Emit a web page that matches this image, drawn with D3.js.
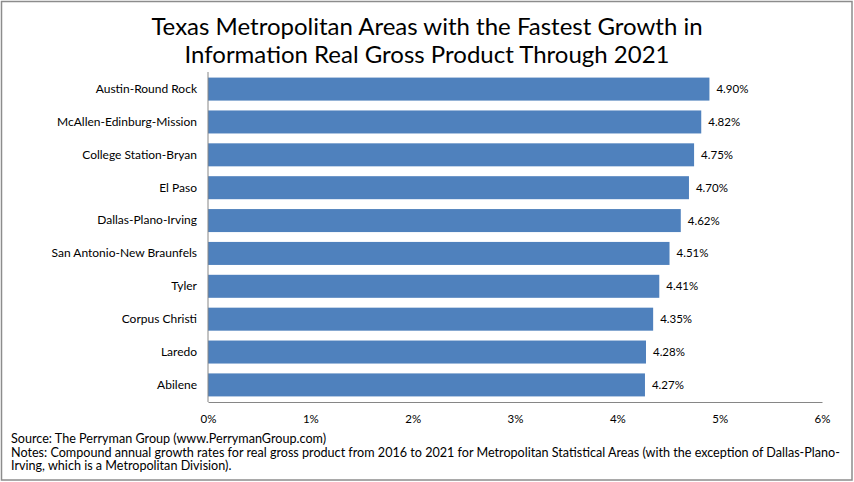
<!DOCTYPE html>
<html>
<head>
<meta charset="utf-8">
<script src="https://cdn.jsdelivr.net/npm/d3@7"></script>
<style>
  body { margin: 0; background: #fff; }
  text { font-family: Lato, "Open Sans", sans-serif; fill: #000; }
</style>
</head>
<body>
<div id="chart"></div>
<script>
var metros = ["Austin-Round Rock", "McAllen-Edinburg-Mission", "College Station-Bryan", "El Paso",
  "Dallas-Plano-Irving", "San Antonio-New Braunfels", "Tyler", "Corpus Christi", "Laredo", "Abilene"];
var growth = [4.90, 4.82, 4.75, 4.70, 4.62, 4.51, 4.41, 4.35, 4.28, 4.27];
var xTicks = [0, 1, 2, 3, 4, 5, 6];
var titleLines = ["Texas Metropolitan Areas with the Fastest Growth in",
  "Information Real Gross Product Through 2021"];
var noteLines = ["Source: The Perryman Group (www.PerrymanGroup.com)",
  "Notes: Compound annual growth rates for real gross product from 2016 to 2021 for Metropolitan Statistical Areas (with the exception of Dallas-Plano-",
  "Irving, which is a Metropolitan Division)."];

var W = 854, H = 482;
var barColor = "#4f81bd";
var plot = {left: 208, right: 822, top: 72, bottom: 402};

var svg = d3.select("#chart").append("svg")
    .attr("width", W)
    .attr("height", H);

svg.append("rect")
    .attr("x", 1.5).attr("y", 1.5)
    .attr("width", W - 3.5).attr("height", H - 3.5)
    .attr("fill", "#fff")
    .attr("stroke", "#8c8c8c")
    .attr("stroke-width", 1.5);

// title
svg.append("g").selectAll("text").data(titleLines).enter().append("text")
    .attr("x", 427)
    .attr("y", function (d, i) { return 35 + i * 28; })
    .attr("text-anchor", "middle")
    .style("font-size", "24px")
    .text(function (d) { return d; });

var x = d3.scaleLinear().domain([0, 6]).range([plot.left, plot.right]);
var y = d3.scaleBand().domain(metros).range([plot.top, plot.bottom]).paddingInner(0.3).paddingOuter(0.17);

// bars
svg.append("g").selectAll("rect").data(growth).enter().append("rect")
    .attr("x", x(0))
    .attr("y", function (d, i) { return y(metros[i]); })
    .attr("width", function (d) { return x(d) - x(0); })
    .attr("height", y.bandwidth())
    .attr("fill", barColor);

// value labels
svg.append("g").selectAll("text").data(growth).enter().append("text")
    .attr("x", function (d) { return x(d) + 7; })
    .attr("y", function (d, i) { return y(metros[i]) + y.bandwidth() / 2; })
    .attr("dy", "0.35em")
    .style("font-size", "11.5px")
    .text(function (d) { return d.toFixed(2) + "%"; });

// axes
var yAxis = svg.append("g")
    .attr("transform", "translate(" + plot.left + ",0)")
    .call(d3.axisLeft(y).tickSize(0).tickPadding(11));
yAxis.select(".domain").attr("stroke", "#868686").attr("d", "M0," + plot.top + "V" + plot.bottom);
yAxis.selectAll("text").style("font-size", "12px").attr("font-family", null);

var xAxis = svg.append("g")
    .attr("transform", "translate(0," + plot.bottom + ")")
    .call(d3.axisBottom(x).tickValues(xTicks).tickSize(0).tickPadding(13)
      .tickFormat(function (d) { return d + "%"; }));
xAxis.select(".domain").attr("stroke", "#868686");
xAxis.selectAll("text").style("font-size", "11.5px").attr("font-family", null);

// source and notes
svg.append("g").selectAll("text").data(noteLines).enter().append("text")
    .attr("x", 11)
    .attr("y", function (d, i) { return 443 + i * 13.5; })
    .style("font-size", "12.6px")
    .text(function (d) { return d; });
</script>
</body>
</html>
